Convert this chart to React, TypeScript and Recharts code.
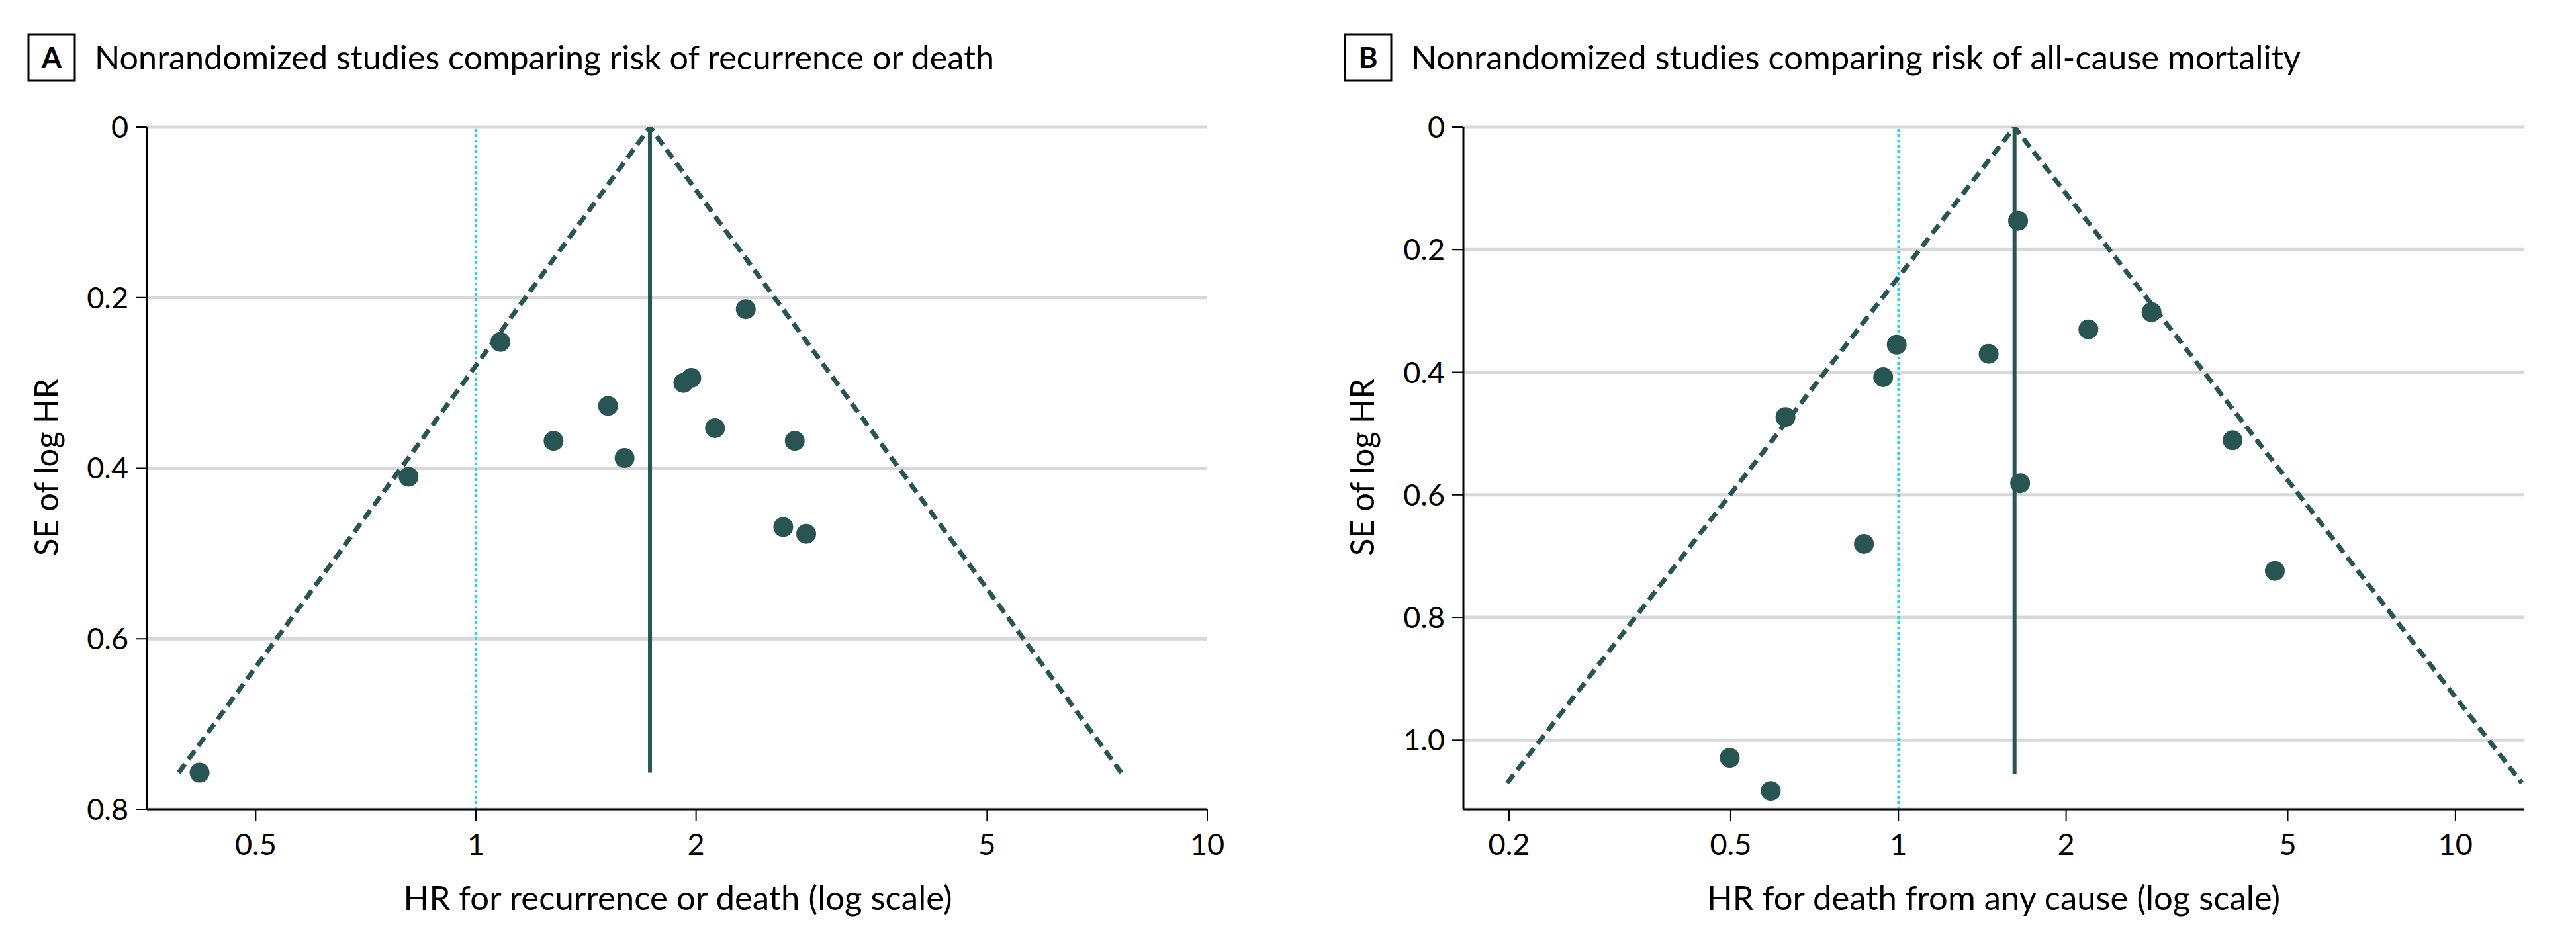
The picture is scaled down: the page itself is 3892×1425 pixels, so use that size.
import React from 'react';
import { ScatterChart, Scatter, XAxis, YAxis, CartesianGrid, ReferenceLine } from 'recharts';

// Panel A: HR for recurrence or death vs SE of log HR
const hrA = [0.419, 0.809, 1.08, 1.277, 1.516, 1.597, 1.922, 1.97, 2.123, 2.339, 2.729, 2.632, 2.829];
const seA = [0.757, 0.41, 0.252, 0.368, 0.327, 0.388, 0.3, 0.294, 0.353, 0.2135, 0.368, 0.469, 0.477];
const pooledA = 1.73;
const funnelSeA = 0.757;
const lineSeA = 0.757;
const xTicksA = [0.5, 1, 2, 5, 10];
const yTicksA = [0, 0.2, 0.4, 0.6, 0.8];

// Panel B: HR for death from any cause vs SE of log HR
const hrB = [1.64, 2.847, 2.193, 0.993, 1.452, 0.939, 0.627, 3.98, 1.654, 0.867, 4.74, 0.498, 0.59];
const seB = [0.153, 0.302, 0.33, 0.355, 0.37, 0.408, 0.473, 0.511, 0.581, 0.68, 0.724, 1.029, 1.083];
const pooledB = 1.616;
const funnelSeB = 1.07;
const lineSeB = 1.055;
const xTicksB = [0.2, 0.5, 1, 2, 5, 10];
const yTicksB = [0, 0.2, 0.4, 0.6, 0.8, 1.0];

const DARK = '#285454';
const CYAN = '#10dcf5';
const GRID = '#d8d8d8';
const FONT = "Lato, 'Liberation Sans', Arial, sans-serif";

// pseudo 95% limits around the pooled estimate, on the log-HR scale
const funnel = (pooled: number, se: number) => [
  { hr: Math.exp(Math.log(pooled) - 1.96 * se), se },
  { hr: pooled, se: 0 },
  { hr: Math.exp(Math.log(pooled) + 1.96 * se), se },
];

const Dot = (props: any) => <circle cx={props.cx} cy={props.cy} r={15} fill={DARK} />;
const NoDot = () => <g />;

interface PanelProps {
  left: number;
  width: number;
  marginLeft: number;
  marginRight: number;
  hr: number[];
  se: number[];
  pooled: number;
  funnelSe: number;
  lineSe: number;
  xDomain: [number, number];
  yMax: number;
  xTicks: number[];
  yTicks: number[];
}

const Panel: React.FC<PanelProps> = (p) => {
  const points = p.hr.map((hr, i) => ({ hr, se: p.se[i] }));
  const vline = [
    { hr: p.pooled, se: 0 },
    { hr: p.pooled, se: p.lineSe },
  ];
  return (
    <div style={{ position: 'absolute', left: p.left, top: 0 }}>
      <ScatterChart
        width={p.width}
        height={1425}
        margin={{ top: 192, right: p.marginRight, bottom: 50, left: p.marginLeft }}
      >
        <CartesianGrid horizontal vertical={false} stroke={GRID} strokeWidth={5} />
        <XAxis
          dataKey="hr"
          type="number"
          scale="log"
          domain={p.xDomain}
          allowDataOverflow
          ticks={p.xTicks}
          height={152}
          tickSize={17}
          tickMargin={20}
          axisLine={{ stroke: '#000', strokeWidth: 3 }}
          tickLine={{ stroke: '#000', strokeWidth: 2 }}
          tick={{ fontSize: 45, fill: '#000', fontFamily: FONT }}
        />
        <YAxis
          dataKey="se"
          type="number"
          domain={[0, p.yMax]}
          allowDataOverflow
          reversed
          ticks={p.yTicks}
          width={120}
          tickSize={17}
          tickMargin={11}
          tickFormatter={(v: number) => (v === 0 ? '0' : v.toFixed(1))}
          axisLine={{ stroke: '#000', strokeWidth: 3 }}
          tickLine={{ stroke: '#000', strokeWidth: 2 }}
          tick={{ fontSize: 45, fill: '#000', fontFamily: FONT }}
        />
        <ReferenceLine x={1} stroke={CYAN} strokeWidth={3.5} strokeDasharray="4 4" />
        <Scatter
          data={funnel(p.pooled, p.funnelSe)}
          line={{ stroke: DARK, strokeWidth: 7, strokeDasharray: '16 9' }}
          shape={NoDot}
          isAnimationActive={false}
        />
        <Scatter
          data={vline}
          line={{ stroke: DARK, strokeWidth: 6 }}
          shape={NoDot}
          isAnimationActive={false}
        />
        <Scatter data={points} shape={Dot} isAnimationActive={false} />
      </ScatterChart>
    </div>
  );
};

const Titles = () => (
  <svg
    width={3892}
    height={1425}
    style={{ position: 'absolute', left: 0, top: 0, pointerEvents: 'none' }}
    fontFamily={FONT}
  >
    <rect x={43} y={52} width={70} height={70} fill="none" stroke="#000" strokeWidth={3} />
    <text x={78} y={103} fontSize={44} fontWeight="bold" textAnchor="middle">A</text>
    <text x={143} y={105} fontSize={50} textLength={1359} lengthAdjust="spacingAndGlyphs">
      Nonrandomized studies comparing risk of recurrence or death
    </text>
    <rect x={2032} y={52} width={70} height={70} fill="none" stroke="#000" strokeWidth={3} />
    <text x={2067} y={103} fontSize={44} fontWeight="bold" textAnchor="middle">B</text>
    <text x={2132} y={105} fontSize={50} textLength={1344} lengthAdjust="spacingAndGlyphs">
      Nonrandomized studies comparing risk of all-cause mortality
    </text>

    <text x={1024} y={1375} fontSize={50} textAnchor="middle" textLength={829} lengthAdjust="spacingAndGlyphs">
      HR for recurrence or death (log scale)
    </text>
    <text x={3012} y={1375} fontSize={50} textAnchor="middle" textLength={866} lengthAdjust="spacingAndGlyphs">
      HR for death from any cause (log scale)
    </text>

    <text
      x={88}
      y={706}
      fontSize={50}
      textAnchor="middle"
      transform="rotate(-90 88 706)"
      textLength={268}
      lengthAdjust="spacingAndGlyphs"
    >
      SE of log HR
    </text>
    <text
      x={2076}
      y={706}
      fontSize={50}
      textAnchor="middle"
      transform="rotate(-90 2076 706)"
      textLength={268}
      lengthAdjust="spacingAndGlyphs"
    >
      SE of log HR
    </text>
  </svg>
);

export default function App() {
  return (
    <div style={{ position: 'absolute', left: 0, top: 0, width: 3892, height: 1425, background: '#fff' }}>
      <Panel
        left={0}
        width={1900}
        marginLeft={102}
        marginRight={76}
        hr={hrA}
        se={seA}
        pooled={pooledA}
        funnelSe={funnelSeA}
        lineSe={lineSeA}
        xDomain={[0.355, 10]}
        yMax={0.8}
        xTicks={xTicksA}
        yTicks={yTicksA}
      />
      <Panel
        left={1950}
        width={1942}
        marginLeft={141}
        marginRight={79}
        hr={hrB}
        se={seB}
        pooled={pooledB}
        funnelSe={funnelSeB}
        lineSe={lineSeB}
        xDomain={[0.1656, 13.26]}
        yMax={1.113}
        xTicks={xTicksB}
        yTicks={yTicksB}
      />
      <Titles />
    </div>
  );
}
